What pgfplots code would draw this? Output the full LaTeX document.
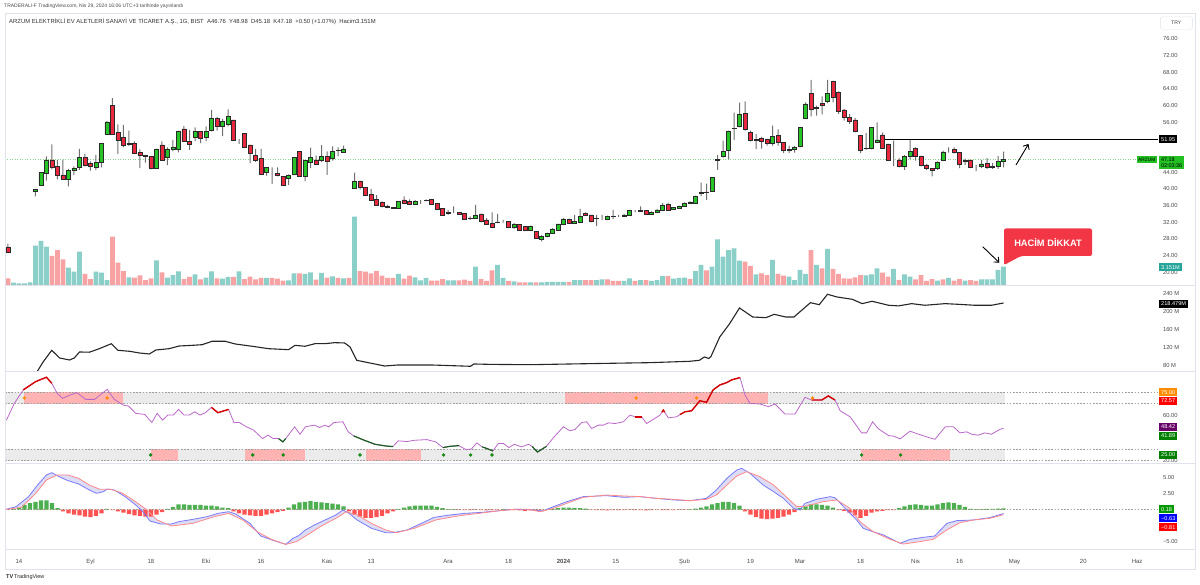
\documentclass[border=0pt]{standalone}
\usepackage{pgfplots}
\pgfplotsset{compat=1.18}
\usepackage{pgfplotstable}
\usetikzlibrary{arrows.meta}
\usepackage{fontspec}
\setmainfont{Liberation Sans}

\definecolor{upc}{HTML}{26C426}
\definecolor{dnc}{HTML}{E8283C}
\definecolor{edgec}{HTML}{2A2A2A}
\definecolor{wickc}{HTML}{707070}
\definecolor{volup}{HTML}{8ACFC8}
\definecolor{voldn}{HTML}{F7A3A3}
\definecolor{txt}{HTML}{4A4A4A}
\definecolor{sepc}{HTML}{E0E3EB}
\definecolor{rsic}{HTML}{BA68C8}
\definecolor{rsired}{HTML}{D50000}
\definecolor{rsigrn}{HTML}{1B5E20}
\definecolor{bandc}{HTML}{EBEBEB}
\definecolor{pinkc}{HTML}{FFB3B3}
\definecolor{dotor}{HTML}{FF8C00}
\definecolor{dotgr}{HTML}{138A13}
\definecolor{macdc}{HTML}{7B7BF7}
\definecolor{sigc}{HTML}{FF8A8A}
\definecolor{fillc}{HTML}{DCDCF7}
\definecolor{hgr}{HTML}{4CAF50}
\definecolor{hrd}{HTML}{FF5252}
\definecolor{tealc}{HTML}{26A69A}
\definecolor{callc}{HTML}{F23645}
\definecolor{pricegr}{HTML}{8FD18F}
\definecolor{lblgreen}{HTML}{22C022}

\pgfplotsset{
  pane/.style={scale only axis, width=1153pt, xmin=-0.545, xmax=209.09,
    anchor=south west,
    axis line style={draw=none}, tick style={draw=none},
    xtick=\empty, ytick=\empty, clip=true,
    yticklabel pos=right,
    yticklabel style={font=\fontsize{5.8}{7}\selectfont, text=txt, anchor=west, xshift=1.5pt}},
}

% i open high low close volume(M) volume-colour(1=up) macd-histogram
\pgfplotstableread{
i o h l c v d m
0 26.1 26.9 24.7 24.7 1.16 0 0
1 27.2 27.2 27.2 27.2 0.40 1 0.05
2 29.9 29.9 29.9 29.9 0.29 1 0.3
3 33.0 33.0 33.0 33.0 0.29 1 0.7
4 36.2 36.2 36.2 36.2 0.47 1 1.0
5 39.5 40.0 38.2 39.9 6.78 1 1.2
6 41.0 44.0 40.9 43.9 7.59 1 1.4
7 43.7 47.8 42.0 47.0 6.60 1 1.4
8 47.0 50.7 44.7 45.2 5.00 0 1.0
9 45.5 47.0 42.3 43.4 6.03 0 0.2
10 43.4 47.0 42.2 42.3 4.43 0 -0.3
11 42.3 44.8 40.6 44.4 2.98 1 -0.6
12 44.6 45.4 43.4 45.0 2.29 1 -0.8
13 45.2 49.6 44.6 47.6 5.74 1 -0.9
14 47.6 48.4 45.4 45.8 1.90 0 -1.1
15 46.2 46.6 44.4 45.4 1.03 0 -1.2
16 45.2 48.2 44.6 46.3 2.29 1 -1.0
17 46.3 51.0 45.2 51.0 2.12 1 -0.6
18 53.1 56.3 53.0 56.1 0.86 1 0.1
19 60.0 61.8 53.0 53.1 8.33 0 -0.1
20 53.5 55.5 48.4 51.8 3.84 0 -0.3
21 52.4 55.4 50.0 50.6 2.41 0 -0.5
22 51.0 54.0 50.3 50.7 1.33 1 -0.7
23 51.0 51.4 48.4 48.6 1.26 0 -0.9
24 48.7 49.5 45.0 48.0 1.67 0 -1.0
25 48.0 48.2 46.3 47.8 0.86 0 -1.1
26 47.8 47.8 44.7 45.0 1.16 0 -1.1
27 45.0 49.6 44.8 49.6 4.26 1 -0.8
28 50.6 51.4 47.0 47.0 2.19 0 -0.4
29 47.6 50.0 45.7 49.6 1.26 1 0.1
30 49.5 51.8 49.0 49.9 1.72 1 0.4
31 49.6 54.0 48.8 53.9 2.36 1 0.8
32 54.4 55.1 51.4 51.4 1.03 0 0.8
33 51.5 54.2 49.4 50.8 1.38 0 0.7
34 52.4 54.8 51.5 53.8 1.84 1 0.7
35 53.8 53.8 51.0 52.2 0.98 0 0.7
36 52.3 55.0 51.5 53.9 1.26 1 0.6
37 54.0 59.0 53.8 57.0 2.36 1 0.6
38 57.0 57.3 54.0 55.0 1.16 0 0.5
39 55.0 56.8 52.7 56.2 1.09 1 0.3
40 55.5 59.1 55.0 57.5 1.38 1 0.2
41 56.6 56.6 51.8 51.8 1.38 0 -0.3
42 51.8 52.0 50.8 51.8 2.36 1 -0.6
43 53.4 53.4 49.9 49.9 1.03 0 -0.8
44 50.6 50.6 46.2 48.6 1.43 0 -0.9
45 48.1 49.6 46.5 46.8 0.98 0 -1.0
46 47.4 49.6 43.3 43.5 1.21 0 -1.0
47 43.9 45.2 43.2 45.2 1.21 1 -0.8
48 43.3 45.2 41.2 43.3 1.21 0 -0.6
49 43.8 45.2 43.0 43.2 1.09 0 -0.4
50 43.0 43.0 41.0 41.0 0.74 0 -0.2
51 42.6 43.5 41.0 43.3 0.81 1 0.3
52 43.6 47.6 43.6 47.6 2.02 1 0.8
53 49.0 49.0 43.0 43.0 2.02 0 1.1
54 43.0 47.0 41.9 46.8 1.90 1 1.2
55 46.4 49.9 45.0 47.5 2.19 1 1.3
56 47.0 48.0 45.7 45.9 0.91 0 1.2
57 46.8 50.5 46.5 47.8 2.07 1 1.1
58 47.8 49.0 43.4 46.6 1.26 0 1.0
59 47.4 50.2 46.8 49.1 1.50 1 0.9
60 49.2 50.0 47.8 49.3 1.21 0 0.8
61 48.9 50.4 48.9 49.6 1.16 1 0.5
62 44.7 44.7 44.7 44.7 1.21 0 -0.3
63 40.2 43.9 40.2 41.9 11.78 1 -0.8
64 41.9 42.0 39.9 40.4 2.41 0 -1.1
65 40.4 40.4 38.6 38.6 2.29 0 -1.3
66 38.7 40.0 37.3 37.4 2.02 0 -1.3
67 37.5 38.5 36.0 36.1 2.41 0 -1.2
68 36.7 37.0 35.6 35.8 1.60 0 -1.0
69 35.9 36.2 35.4 35.6 1.21 0 -0.6
70 35.5 35.6 35.2 35.3 1.21 0 -0.3
71 35.4 37.0 35.3 37.0 1.90 1 0.1
72 37.4 38.2 36.4 36.6 1.09 0 0.3
73 37.0 37.5 36.2 36.4 1.60 0 0.5
74 36.4 37.3 36.2 37.1 1.33 1 0.6
75 37.1 37.3 36.4 37.1 0.81 1 0.6
76 37.2 37.5 37.0 37.3 1.21 1 0.6
77 37.5 37.6 36.2 36.3 0.74 0 0.6
78 36.5 36.5 35.0 35.2 0.74 0 0.4
79 35.3 35.3 33.6 33.8 1.03 0 0.2
80 34.2 35.0 33.8 34.4 0.81 1 0.05
81 34.3 35.8 34.2 34.3 0.81 1 0.05
82 34.4 34.5 33.9 34.0 0.81 0 -0.05
83 34.2 34.2 32.6 32.8 0.91 0 -0.1
84 32.9 33.4 32.6 33.0 0.69 0 -0.1
85 32.9 36.2 32.8 33.8 3.16 1 -0.05
86 34.0 34.0 32.0 32.2 1.03 0 -0.1
87 32.6 33.0 31.4 31.6 0.69 0 -0.15
88 31.8 34.4 30.6 30.8 2.53 0 -0.1
89 32.0 34.0 31.8 32.1 3.45 1 -0.05
90 32.1 32.6 31.9 32.1 1.21 1 0.05
91 32.3 32.3 30.6 30.8 0.69 0 -0.1
92 30.7 31.8 30.4 31.5 0.64 1 -0.1
93 31.5 31.5 30.0 30.2 0.47 0 -0.15
94 31.0 31.0 29.9 30.0 0.47 0 -0.2
95 30.0 31.2 29.9 31.0 0.47 1 -0.15
96 29.8 29.8 28.0 28.2 0.47 0 -0.2
97 27.9 28.9 27.4 28.7 0.47 1 -0.1
98 28.6 29.5 28.4 29.3 0.52 1 0.05
99 29.4 30.6 29.3 30.4 0.52 1 0.1
100 30.2 31.6 30.0 31.6 0.52 1 0.2
101 31.6 33.0 31.6 32.8 0.52 1 0.3
102 32.7 32.9 31.7 31.8 0.52 0 0.3
103 31.8 33.8 31.6 32.2 0.86 1 0.25
104 32.0 35.2 31.8 33.4 0.86 1 0.2
105 34.2 34.4 33.7 33.8 0.86 0 0.15
106 33.8 33.8 32.0 32.2 0.86 0 -0.05
107 32.9 33.8 31.1 33.0 0.86 1 -0.1
108 33.0 33.8 32.6 33.0 0.98 1 -0.1
109 32.8 33.6 32.5 33.4 0.98 0 -0.15
110 33.4 35.0 32.8 33.5 0.69 0 -0.1
111 33.5 33.8 33.3 33.5 0.69 0 -0.1
112 33.4 34.0 33.4 33.8 0.69 1 -0.1
113 33.8 35.0 33.6 34.8 1.16 1 -0.05
114 34.6 34.9 34.4 34.6 0.69 0 -0.1
115 34.7 35.8 34.5 34.8 0.86 1 -0.1
116 34.8 34.9 33.8 34.0 0.86 0 -0.15
117 34.0 34.6 33.9 34.4 0.69 1 -0.1
118 34.4 35.2 34.3 35.0 0.86 1 -0.05
119 35.0 36.6 34.9 36.2 1.55 1 -0.1
120 36.3 36.7 34.9 35.0 1.55 0 -0.1
121 35.1 35.7 35.0 35.5 1.09 1 -0.1
122 35.4 36.0 35.3 35.8 1.21 1 -0.05
123 35.8 36.8 35.7 36.6 1.26 1 -0.05
124 36.6 37.0 36.4 36.9 1.03 0 0.05
125 36.6 38.4 36.5 38.3 2.41 1 0.15
126 39.0 41.5 38.3 39.1 3.45 1 0.3
127 39.3 41.3 37.4 39.1 2.53 0 0.5
128 39.4 42.8 39.3 42.8 3.16 1 0.8
129 46.8 48.2 44.6 47.1 7.88 1 1.0
130 47.8 51.6 47.5 49.1 4.88 1 1.2
131 49.2 54.0 47.1 53.9 6.03 1 1.2
132 54.5 58.3 51.8 54.6 6.33 1 1.0
133 55.0 60.7 54.8 58.0 4.19 1 0.6
134 58.2 61.0 54.0 54.3 4.02 0 -0.3
135 53.6 54.0 51.4 51.6 3.28 0 -0.8
136 51.9 53.2 49.6 51.8 1.84 1 -1.2
137 52.2 52.5 49.7 51.4 2.02 0 -1.4
138 51.9 52.0 50.4 51.0 1.72 0 -1.5
139 51.0 55.2 50.4 52.7 4.31 1 -1.4
140 52.9 54.3 50.4 51.1 1.90 0 -1.3
141 51.1 51.2 48.6 49.4 1.60 0 -1.1
142 49.5 50.4 48.6 49.4 1.43 1 -0.8
143 49.5 50.3 48.7 50.0 0.86 1 -0.4
144 50.3 54.8 50.0 54.8 2.59 1 0.2
145 57.0 60.8 56.8 60.4 1.90 1 0.5
146 63.0 66.2 57.4 59.2 6.03 0 0.8
147 59.6 60.0 57.6 59.4 3.45 1 0.8
148 60.6 62.2 57.9 60.1 2.88 0 0.7
149 61.0 66.2 60.6 63.0 6.21 1 0.6
150 65.8 66.0 60.8 61.9 2.76 0 0.3
151 63.1 63.4 58.0 58.6 1.90 0 -0.1
152 59.0 59.2 56.4 57.2 1.16 0 -0.2
153 57.2 58.0 55.6 56.2 1.09 0 -0.5
154 56.6 57.0 53.6 53.8 1.33 0 -0.9
155 52.8 53.0 48.6 49.4 1.72 0 -1.3
156 49.7 53.4 49.4 49.8 1.67 1 -1.0
157 49.7 54.8 49.5 54.8 1.84 1 -0.5
158 51.3 56.0 51.0 51.8 2.88 1 -0.3
159 53.0 53.5 49.6 49.8 2.12 0 -0.2
160 50.8 50.8 46.8 47.0 1.43 0 -0.1
161 47.0 51.6 45.5 47.0 2.76 1 -0.1
162 47.0 47.4 45.2 45.4 0.86 0 0.2
163 45.4 48.1 44.6 47.9 1.84 1 0.5
164 47.9 51.9 47.2 49.1 1.43 1 0.7
165 49.7 50.0 46.8 47.9 0.98 0 0.8
166 47.9 48.0 45.4 45.7 1.72 0 0.7
167 45.8 46.0 44.5 45.0 0.69 0 0.6
168 45.0 45.0 43.0 44.6 1.03 0 0.6
169 44.9 46.6 44.6 46.3 0.74 1 0.8
170 47.0 49.2 46.7 48.9 0.98 0 1.0
171 49.5 50.0 48.7 49.5 1.21 1 1.1
172 49.5 50.0 48.5 48.7 0.74 0 1.0
173 48.7 48.8 45.0 46.0 1.03 0 0.7
174 46.8 47.3 45.8 46.7 0.74 1 0.4
175 47.0 47.0 45.0 45.2 0.86 0 0.1
176 45.2 45.8 44.3 45.2 0.69 0 0.05
177 45.4 47.0 45.0 46.0 0.98 1 0.05
178 46.2 47.4 44.8 45.1 0.98 1 0.1
179 45.2 46.2 44.8 45.4 0.98 1 0.1
180 45.4 47.9 44.8 46.68 2.59 1 0.15
181 46.76 48.98 45.18 47.18 3.15 1 0.18
}\candles

\begin{document}
\begin{tikzpicture}
\fill[white] (0pt,0pt) rectangle (1200pt,585pt);

% ---------- main price pane: ticks + price line ----------
\begin{axis}[pane, at={(5pt,300pt)}, height=271pt, ymin=16.96, ymax=82.0,
  ytick={20,24,28,32,36,40,44,56,60,64,68,72,76},
  yticklabels={20.00,24.00,28.00,32.00,36.00,40.00,44.00,56.00,60.00,64.00,68.00,72.00,76.00}]
\addplot[pricegr, line width=0.6pt, dash pattern=on 1pt off 1.5pt] coordinates {(-0.545,47.18) (209.09,47.18)};
\end{axis}

% volume
\begin{axis}[pane, at={(5pt,300pt)}, height=271pt, ymin=0, ymax=46.72]
\addplot[ybar, bar width=4.6pt, bar shift=0pt, fill=volup, draw=none] table[x=i, y expr={\thisrow{d}*\thisrow{v}}]{\candles};
\addplot[ybar, bar width=4.6pt, bar shift=0pt, fill=voldn, draw=none] table[x=i, y expr={(1-\thisrow{d})*\thisrow{v}}]{\candles};
\end{axis}

% wicks
\begin{axis}[pane, ybar stacked, bar width=1pt, at={(5pt,300pt)}, height=271pt, ymin=16.96, ymax=82.0]
\addplot[draw=none, fill=none] table[x=i, y=l]{\candles};
\addplot[fill=wickc, draw=none] table[x=i, y expr={\thisrow{h}-\thisrow{l}}]{\candles};
\end{axis}

% bodies
\begin{axis}[pane, ybar stacked, bar width=4pt, at={(5pt,300pt)}, height=271pt, ymin=16.96, ymax=82.0]
\addplot[draw=none, fill=none] table[x=i, y expr={min(\thisrow{o},\thisrow{c})}]{\candles};
\addplot[fill=upc, draw=edgec, line width=0.6pt] table[x=i, y expr={max(\thisrow{c}-\thisrow{o},0)}]{\candles};
\addplot[fill=dnc, draw=edgec, line width=0.6pt] table[x=i, y expr={max(\thisrow{o}-\thisrow{c},0)}]{\candles};
\end{axis}

% resistance line
\begin{axis}[pane, at={(5pt,300pt)}, height=271pt, ymin=16.96, ymax=82.0]
\addplot[black, line width=1.3pt] coordinates {(159.5,51.95) (209.09,51.95)};
\end{axis}

% ---------- second pane ----------
\begin{axis}[pane, at={(5pt,214pt)}, height=86pt, ymin=68.3, ymax=258.3,
  ytick={80,120,160,200,240}, yticklabels={80 M,120 M,160 M,200 M,240 M}]
\addplot[black!85, line width=1.1pt] coordinates {
(5.18,64.5) (6.38,88.2) (7.95,114) (9.4,97) (11.2,92.6) (12.05,97) (13.0,110.3) (14.8,109.8)
(16.6,117.6) (18.8,128.6) (20.0,114) (22.1,111.8) (23.9,108.1) (25.7,105.9) (26.9,114.7)
(29.3,117.6) (31.1,123.5) (33.5,125) (35.3,126.4) (37.1,133.9) (39.5,133.9) (41.3,128)
(44.4,122.9) (47.4,117.6) (51.0,115.4) (52.2,125) (54.0,122.9) (55.8,128.6) (57.6,128.6)
(59.4,130.9) (61.2,130.2) (62.2,121.3) (63.4,91.9) (65.5,86.7) (68.5,79.3) (70.9,81.6)
(76.9,81.6) (84.1,78.7) (84.7,83.8) (87.8,82.9) (95.0,82.2) (102.2,83.8) (109.5,85.3)
(116.7,86.7) (123.9,89.7) (125.7,91.9) (126.6,99.2) (127.4,96) (127.8,100) (129.4,143.4)
(131.2,172.8) (133.0,207.5) (135.4,187.6) (137.8,186.1) (139.3,193.5) (141.4,187.6)
(142.9,187.6) (145.9,219.2) (147.5,214.8) (149.0,237.8) (150.7,231.9) (153.5,226.7)
(155.3,217.1) (157.1,222.3) (160.1,213.5) (161.9,212.1) (164.3,217.1) (166.7,213.5)
(170.4,217.1) (172.8,215.6) (175.8,213.5) (178.8,213.5) (181,218.5)};
\end{axis}

% ---------- RSI pane ----------
\begin{axis}[pane, at={(5pt,122pt)}, height=92pt, ymin=17.98, ymax=98.68,
  ytick={20,60}, yticklabels={20.00,60.00}]
\addplot[fill=bandc, draw=none] coordinates {(-0.545,70) (181.3,70) (181.3,80) (-0.545,80)} -- cycle;
\addplot[fill=bandc, draw=none] coordinates {(-0.545,20) (181.3,20) (181.3,30) (-0.545,30)} -- cycle;
\addplot[fill=pinkc, draw=none] coordinates {(2.97,70) (20.95,70) (20.95,80) (2.97,80)} -- cycle;
\addplot[fill=pinkc, draw=none] coordinates {(101.3,70) (138.25,70) (138.25,80) (101.3,80)} -- cycle;
\addplot[fill=pinkc, draw=none] coordinates {(25.95,20) (31.0,20) (31.0,30) (25.95,30)} -- cycle;
\addplot[fill=pinkc, draw=none] coordinates {(43.03,20) (54.07,20) (54.07,30) (43.03,30)} -- cycle;
\addplot[fill=pinkc, draw=none] coordinates {(65.1,20) (75.0,20) (75.0,30) (65.1,30)} -- cycle;
\addplot[fill=pinkc, draw=none] coordinates {(155.1,20) (171.2,20) (171.2,30) (155.1,30)} -- cycle;
\addplot[gray!75, line width=0.6pt, dash pattern=on 1.6pt off 1.6pt] coordinates {(-0.545,80) (209.09,80)};
\addplot[gray!75, line width=0.6pt, dash pattern=on 1.6pt off 1.6pt] coordinates {(-0.545,70) (209.09,70)};
\addplot[gray!75, line width=0.6pt, dash pattern=on 1.6pt off 1.6pt] coordinates {(-0.545,30) (209.09,30)};
\addplot[gray!75, line width=0.6pt, dash pattern=on 1.6pt off 1.6pt] coordinates {(-0.545,20) (209.09,20)};
\addplot[rsic, line width=0.8pt] coordinates {
(-0.28,55.6) (1.15,70.3) (2.77,82.1) (5.04,89.4) (6.99,93.2) (7.96,87.9) (8.94,79.1) (9.91,74.7)
(10.89,76.8) (12.51,79.7) (14.13,73.8) (15.76,73.8) (18.03,82.6) (19.33,73.8) (20.95,68.8)
(21.93,67.9) (23.23,61.5) (24.85,60.6) (26.15,53.5) (27.12,61.5) (28.1,55.6) (29.07,60.0)
(30.04,60.0) (31.02,65.0) (31.99,60.0) (32.96,60.0) (33.94,62.9) (34.91,60.0) (35.89,62.1)
(36.99,66.8) (38.16,62.1) (40.11,65.0) (41.08,53.5) (42.06,53.5) (43.36,49.7) (44.65,46.8)
(46.28,39.4) (47.25,42.4) (48.23,39.4) (49.2,39.4) (49.98,36.5) (50.5,39.4) (52.12,49.7)
(53.1,43.2) (54.07,49.7) (55.69,51.2) (56.67,49.1) (57.64,51.2) (58.29,49.7) (59.26,53.5)
(60.89,54.1) (61.86,45.3) (62.84,41.8) (64.78,37.9) (66.73,34.4) (68.68,32.9) (69.98,32.4)
(70.95,37.4) (72.57,36.8) (73.87,37.9) (76.15,38.5) (77.77,36.5) (79.07,31.5) (80.37,32.6)
(81.99,33.2) (83.29,29.7) (84.26,30.3) (85.24,35.6) (86.21,32.1) (87.18,30.5) (88.16,28.5)
(89.13,35.0) (90.1,35.0) (91.08,31.5) (92.05,34.4) (93.35,32.1) (94.65,34.4) (95.3,32.5)
(96.27,27.6) (97.9,32.6) (99.3,40.9) (100.97,49.7) (102.18,46.2) (103.09,47.4) (104.3,53.5)
(105.21,54.1) (106.12,48.2) (107.33,51.2) (108.25,51.2) (109.15,53.2) (110.37,52.6)
(111.88,54.1) (113.1,60.0) (114.0,58.5) (115.2,58.5) (116.1,52.6) (117.6,57.1) (118.55,60.0)
(119.15,64.4) (120.06,57.6) (121.58,58.5) (122.18,60.5) (123.1,62.9) (124.3,63.8) (125.8,72.6)
(127.0,71.2) (128.2,82.1) (129.45,86.5) (130.67,88.5) (131.58,90.9) (133.1,92.9) (134.0,77.6)
(134.9,70.3) (136.73,69.7) (138.25,67.4) (139.46,69.7) (141.27,60.9) (143.1,60.9) (144.9,75.6)
(146.1,73.2) (147.94,73.2) (149.15,76.8) (150.36,73.2) (151.3,63.8) (153.1,58.5) (154.0,52.6)
(155.2,44.4) (156.1,44.4) (157.2,54.1) (158.2,48.2) (160.1,42.0) (161.0,41.5) (162.2,39.1)
(164.0,45.9) (165.2,43.8) (167.6,40.0) (168.55,38.8) (170.4,49.7) (171.9,49.7) (173.1,44.4)
(174.3,45.3) (175.2,43.2) (176.4,42.4) (177.6,44.4) (178.8,43.2) (180.4,47.6) (181,48.4)};
\addplot[rsired, line width=1.4pt] coordinates {(2.77,82.1) (5.04,89.4) (6.99,93.2) (7.96,87.9)};
\addplot[rsired, line width=1.4pt] coordinates {(36.99,66.8) (38.16,62.1) (40.11,65.0)};
\addplot[rsired, line width=1.4pt] coordinates {(114.0,58.5) (115.2,58.5)};
\addplot[rsired, line width=1.4pt] coordinates {(118.9,62.5) (119.15,64.4) (119.4,62.5)};
\addplot[rsired, line width=1.4pt] coordinates {(122.18,60.5) (123.1,62.9) (124.3,63.8) (125.8,72.6) (127.0,71.2) (128.2,82.1) (129.45,86.5) (130.67,88.5) (131.58,90.9) (133.1,92.9)};
\addplot[rsired, line width=1.4pt] coordinates {(146.1,73.2) (147.94,73.2) (149.15,76.8) (150.36,73.2)};
\addplot[rsigrn, line width=1.2pt] coordinates {(49.2,39.4) (49.98,36.5) (50.5,39.4)};
\addplot[rsigrn, line width=1.2pt] coordinates {(62.84,41.8) (64.78,37.9) (66.73,34.4) (68.68,32.9) (69.98,32.4)};
\addplot[rsigrn, line width=1.2pt] coordinates {(79.07,31.5) (80.37,32.6) (81.99,33.2)};
\addplot[rsigrn, line width=1.2pt] coordinates {(86.21,32.1) (87.18,30.5) (88.16,28.5)};
\addplot[rsigrn, line width=1.2pt] coordinates {(95.3,32.5) (96.27,27.6) (97.9,32.6)};
\addplot[only marks, mark=*, mark size=1.5pt, dotor] coordinates {(2.97,75) (18.03,75) (114.2,75) (125.2,75) (146.3,75)};
\addplot[only marks, mark=*, mark size=1.5pt, dotgr] coordinates {(25.95,25) (44.5,25) (50.04,25) (64.0,25) (79.2,25) (84.1,25) (88.0,25) (155.2,25) (162.3,25)};
\end{axis}

% ---------- MACD pane ----------
\begin{axis}[pane, at={(5pt,36pt)}, height=86pt, ymin=-6.13, ymax=7.22,
  ytick={-5,2.5,5}, yticklabels={−5.00,2.50,5.00},
  xtick={2,15,26,36,46,58,66,80,91,101,110.5,123,135,144,155,165,173,183,195.5,205.3},
  xticklabels={14,Eyl,18,Eki,16,Kas,13,Ara,18,{\textbf{2024}},15,Şub,19,Mar,18,Nis,16,May,20,Haz},
  xticklabel style={font=\fontsize{6}{7}\selectfont, text=txt, yshift=-7pt}]
\addplot[fill=fillc, draw=none] coordinates {
(-0.48,0) (1.47,0.44) (3.74,2.0) (5.37,3.8) (6.99,5.36) (7.97,5.72) (9.26,5.1) (10.89,4.48)
(12.84,3.96) (14.78,3.03) (16.08,2.51) (17.38,2.77) (18.03,3.18) (19.33,3.03) (21.28,2.0)
(23.23,0.70) (24.52,-0.34) (25.82,-1.79) (27.77,-2.25) (29.72,-2.25) (31.02,-1.89) (33.61,-1.53)
(36.21,-1.11) (38.16,-0.60) (40.11,-0.34) (41.41,-0.70) (44.0,-2.15) (45.95,-4.11) (48.55,-4.89)
(50.5,-5.41) (51.8,-4.48) (52.77,-4.1) (54.07,-3.18) (55.69,-2.41) (57.64,-1.63) (59.59,-0.85)
(60.89,-0.08) (61.86,-0.5) (63.48,-1.63) (66.08,-2.92) (68.68,-3.60) (69.98,-3.60) (72.57,-3.18)
(75.17,-2.15) (77.45,-1.22) (80.37,-0.85) (82.97,-0.60) (86.21,-0.44) (89.46,-0.18) (92.05,0.03)
(94.65,0.0) (97.25,-0.23) (99.15,0.44) (101.6,1.22) (104.6,2.0) (108.8,2.15) (111.9,1.89)
(114.9,2.0) (117.9,1.73) (121.0,1.48) (124.0,1.37) (127.0,1.73) (128.8,3.03) (130.7,4.84)
(132.5,6.13) (133.4,6.39) (134.9,5.62) (137.3,3.80) (139.2,2.77) (141.0,1.73) (142.8,0.18)
(144.0,-0.08) (144.9,0.96) (147.0,1.58) (149.5,2.0) (150.4,1.8) (152.5,-0.08) (154.3,-1.63)
(155.5,-2.92) (156.7,-3.29) (159.2,-3.96) (162.2,-5.25) (164.0,-4.63) (166.4,-4.32) (168.5,-4.11)
(170.7,-2.15) (172.5,-1.73) (175.5,-1.63) (178.5,-1.27) (181,-0.63)
(181,-0.81) (178.5,-1.37) (175.5,-1.63) (173.1,-2.04) (170.7,-3.18) (168.2,-4.63) (165.8,-4.99)
(162.8,-5.36) (160.4,-4.63) (157.3,-3.44) (154.9,-1.89) (153.1,0.18) (150.7,1.48) (148.2,1.22)
(145.2,0.54) (143.4,0.44) (141.6,1.89) (139.2,3.80) (136.7,5.10) (134.3,5.87) (132.5,5.20)
(130.7,3.80) (128.8,2.25) (127.0,1.58) (124.0,1.37) (121.0,1.58) (117.9,1.73) (114.9,2.0)
(111.9,2.10) (108.8,2.25) (104.6,1.89) (101.6,0.96) (99.15,0.18) (96.73,-0.34) (94.65,0.03)
(92.05,0.03) (89.46,-0.18) (85.56,-0.60) (81.67,-1.01) (77.77,-1.63) (73.87,-2.92) (70.63,-3.60)
(68.68,-3.18) (66.08,-2.15) (63.48,-0.85) (61.54,-0.34) (59.59,-1.37) (56.99,-2.56) (54.4,-3.96)
(52.45,-4.99) (50.5,-5.41) (47.9,-4.63) (45.3,-3.44) (42.7,-1.63) (40.11,-0.60) (37.51,-1.11)
(33.61,-2.15) (29.72,-2.56) (27.12,-1.63) (25.17,0) (22.58,1.58) (20.63,2.61) (18.68,3.13)
(16.73,3.13) (14.78,3.8) (12.84,4.84) (10.89,5.36) (8.94,5.36) (6.99,4.58) (5.04,2.5) (2.45,0.33)
(-0.48,0)} -- cycle;
\addplot[gray!75, line width=0.6pt, dash pattern=on 1.6pt off 1.6pt] coordinates {(-0.545,0) (209.09,0)};
\addplot[ybar, bar width=4.4pt, bar shift=0pt, fill=hgr, draw=none] table[x=i, y expr={max(\thisrow{m},0)}]{\candles};
\addplot[ybar, bar width=4.4pt, bar shift=0pt, fill=hrd, draw=none] table[x=i, y expr={min(\thisrow{m},0)}]{\candles};
\addplot[macdc, line width=0.8pt] coordinates {
(-0.48,0) (1.47,0.44) (3.74,2.0) (5.37,3.8) (6.99,5.36) (7.97,5.72) (9.26,5.1) (10.89,4.48)
(12.84,3.96) (14.78,3.03) (16.08,2.51) (17.38,2.77) (18.03,3.18) (19.33,3.03) (21.28,2.0)
(23.23,0.70) (24.52,-0.34) (25.82,-1.79) (27.77,-2.25) (29.72,-2.25) (31.02,-1.89) (33.61,-1.53)
(36.21,-1.11) (38.16,-0.60) (40.11,-0.34) (41.41,-0.70) (44.0,-2.15) (45.95,-4.11) (48.55,-4.89)
(50.5,-5.41) (51.8,-4.48) (52.77,-4.1) (54.07,-3.18) (55.69,-2.41) (57.64,-1.63) (59.59,-0.85)
(60.89,-0.08) (61.86,-0.5) (63.48,-1.63) (66.08,-2.92) (68.68,-3.60) (69.98,-3.60) (72.57,-3.18)
(75.17,-2.15) (77.45,-1.22) (80.37,-0.85) (82.97,-0.60) (86.21,-0.44) (89.46,-0.18) (92.05,0.03)
(94.65,0.0) (97.25,-0.23) (99.15,0.44) (101.6,1.22) (104.6,2.0) (108.8,2.15) (111.9,1.89)
(114.9,2.0) (117.9,1.73) (121.0,1.48) (124.0,1.37) (127.0,1.73) (128.8,3.03) (130.7,4.84)
(132.5,6.13) (133.4,6.39) (134.9,5.62) (137.3,3.80) (139.2,2.77) (141.0,1.73) (142.8,0.18)
(144.0,-0.08) (144.9,0.96) (147.0,1.58) (149.5,2.0) (150.4,1.8) (152.5,-0.08) (154.3,-1.63)
(155.5,-2.92) (156.7,-3.29) (159.2,-3.96) (162.2,-5.25) (164.0,-4.63) (166.4,-4.32) (168.5,-4.11)
(170.7,-2.15) (172.5,-1.73) (175.5,-1.63) (178.5,-1.27) (181,-0.63)};
\addplot[sigc, line width=0.8pt] coordinates {
(-0.48,0) (2.45,0.33) (5.04,2.5) (6.99,4.58) (8.94,5.36) (10.89,5.36) (12.84,4.84) (14.78,3.8)
(16.73,3.13) (18.68,3.13) (20.63,2.61) (22.58,1.58) (25.17,0) (27.12,-1.63) (29.72,-2.56)
(33.61,-2.15) (37.51,-1.11) (40.11,-0.60) (42.7,-1.63) (45.3,-3.44) (47.9,-4.63) (50.5,-5.41)
(52.45,-4.99) (54.4,-3.96) (56.99,-2.56) (59.59,-1.37) (61.54,-0.34) (63.48,-0.85) (66.08,-2.15)
(68.68,-3.18) (70.63,-3.60) (73.87,-2.92) (77.77,-1.63) (81.67,-1.01) (85.56,-0.60) (89.46,-0.18)
(92.05,0.03) (94.65,0.03) (96.73,-0.34) (99.15,0.18) (101.6,0.96) (104.6,1.89) (108.8,2.25)
(111.9,2.10) (114.9,2.0) (117.9,1.73) (121.0,1.58) (124.0,1.37) (127.0,1.58) (128.8,2.25)
(130.7,3.80) (132.5,5.20) (134.3,5.87) (136.7,5.10) (139.2,3.80) (141.6,1.89) (143.4,0.44)
(145.2,0.54) (148.2,1.22) (150.7,1.48) (153.1,0.18) (154.9,-1.89) (157.3,-3.44) (160.4,-4.63)
(162.8,-5.36) (165.8,-4.99) (168.2,-4.63) (170.7,-3.18) (173.1,-2.04) (175.5,-1.63) (178.5,-1.37)
(181,-0.81)};
\end{axis}

\begin{scope}[x=1pt,y=1pt]
% ---------- frame and separators ----------
\draw[sepc, line width=0.8pt] (5,16) rectangle (1195,572);
\foreach \yy in {300,214,122,36} \draw[sepc, line width=0.8pt] (5,\yy) -- (1195,\yy);

% ---------- header ----------
\node[anchor=west, inner sep=0pt, font=\fontsize{5.0}{6}\selectfont, text=txt] at (4,579)
  {TRADERALI-F TradingView.com, Nis 29, 2024 16:06 UTC+3 tarihinde yayınlandı};
\node[anchor=west, inner sep=0pt, font=\fontsize{5.9}{6}\selectfont, text=black!80] at (9,563)
  {ARZUM ELEKTRİKLİ EV ALETLERİ SANAYİ VE TİCARET A.Ş., 1G, BIST\ \ A46.76\ \ Y48.98\ \ D45.18\ \ K47.18\ \ +0.50 (+1.07\%)\ \ Hacim3.151M};
\node[draw=sepc, fill=white, rounded corners=1.5pt, minimum width=32pt, minimum height=12.5pt, inner sep=0pt,
  font=\fontsize{5.2}{6}\selectfont, text=txt] at (1176.3,562) {TRY};

% ---------- annotations ----------
\draw[black, line width=0.9pt, -{Straight Barb[length=4pt,width=7pt]}] (1016,420) -- (1028.5,441);
\draw[black, line width=0.9pt, -{Straight Barb[length=4pt,width=7pt]}] (982.7,338.3) -- (999.3,322.3);
\fill[callc, rounded corners=2pt] (1004,320) -- (1004,356.5) -- (1092,356.5) -- (1092,329) -- (1021,329) -- cycle;
\node[text=white, font=\bfseries\fontsize{9.3}{10}\selectfont] at (1048,342.5) {HACİM DİKKAT};

% ---------- right-scale labels ----------
\tikzset{lbl/.style={anchor=west, inner xsep=2pt, inner ysep=0pt, minimum height=8pt, text=white,
  font=\fontsize{5.6}{6}\selectfont}}
\node[lbl, fill=black] at (1159,445.7) {51.95};
\node[anchor=east, inner xsep=1.5pt, inner ysep=0pt, minimum height=7pt, fill=lblgreen, text=black,
  font=\fontsize{4.8}{5}\selectfont] at (1157,425.5) {ARZUM};
\node[anchor=west, fill=lblgreen, text=black, inner xsep=2pt, inner ysep=1pt, align=left,
  font=\fontsize{5.4}{6.2}\selectfont] at (1159,422.5) {47.18\\02:03:36};
\node[lbl, fill=tealc] at (1159,317.5) {3.151M};
\node[lbl, fill=black] at (1159,281.3) {218.479M};
\node[lbl, fill=dotor] at (1159,192.8) {75.00};
\node[lbl, fill=red] at (1159,184.3) {72.57};
\node[lbl, fill=violet!80!black] at (1159,158.3) {48.42};
\node[lbl, fill=green!50!black] at (1159,149.3) {41.89};
\node[lbl, fill=green!50!black] at (1159,130.3) {25.00};
\node[lbl, fill=green!60!black] at (1159,75.8) {0.18};
\node[lbl, fill=blue] at (1159,66.7) {−0.63};
\node[lbl, fill=red] at (1159,57.8) {−0.81};

% ---------- logo ----------
\node[anchor=west, inner sep=0pt, font=\fontsize{5.5}{6}\selectfont, text=black!85] at (6,8)
  {\textbf{TV}\,TradingView};
\end{scope}

\pgfresetboundingbox
\path[use as bounding box] (0pt,0pt) rectangle (1200pt,585pt);
\end{tikzpicture}
\end{document}
